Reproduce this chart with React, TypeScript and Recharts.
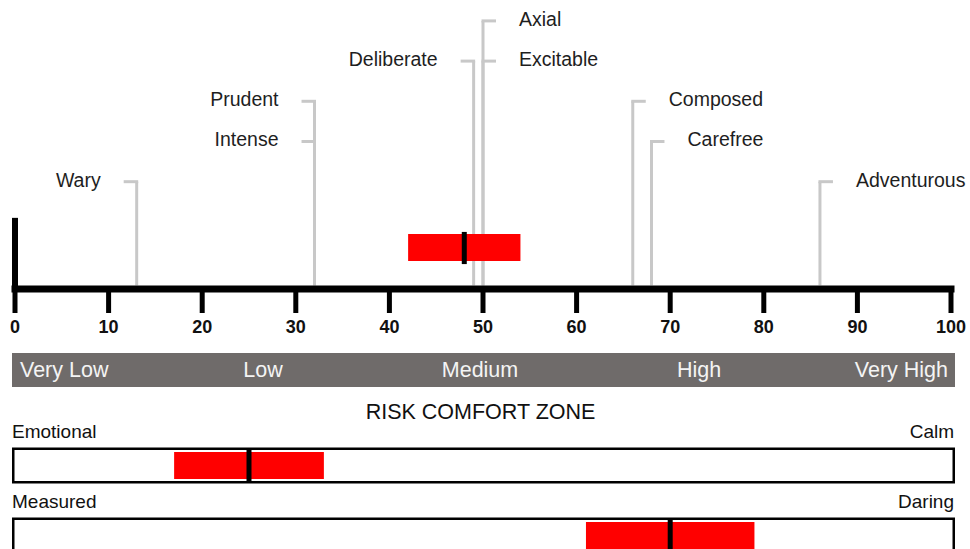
import React from 'react';
import { ComposedChart, XAxis, YAxis, ReferenceLine, Scatter, Bar } from 'recharts';

// ---- data ----
const TRAIT_NAMES = ['Wary', 'Prudent', 'Intense', 'Deliberate', 'Axial', 'Excitable', 'Composed', 'Carefree', 'Adventurous'];
const TRAIT_VALUES = [13, 32, 32, 49, 50, 50, 66, 68, 86];
const TRAIT_TIERS = [1, 3, 2, 4, 5, 4, 3, 2, 1];
const AXIS_TICKS = [0, 10, 20, 30, 40, 50, 60, 70, 80, 90, 100];
const ZONE_LOW = 42;
const ZONE_HIGH = 54;
const ZONE_MARK = 48;
const BAND_LABELS = ['Very Low', 'Low', 'Medium', 'High', 'Very High'];
const TITLE = 'RISK COMFORT ZONE';
const ROW_LEFT = ['Emotional', 'Measured'];
const ROW_RIGHT = ['Calm', 'Daring'];
const ROW_LOW = [17, 61];
const ROW_HIGH = [33, 79];
const ROW_MARK = [25, 70];

// ---- layout / style ----
const FONT = "'Liberation Sans', Arial, Helvetica, sans-serif";
const GRAY = '#c8c8c8';
const RED = '#ff0000';
const Y_MIN = -1.67;
const Y_MAX = 5.52;
const ZONE_Y = -0.64;
const MARK_Y = [-1.05, -0.25];
const LEFT_BAR_TOP = 0.1;
const BAND_POS: Array<{ left?: number; center?: number; right?: number }> = [
  { left: 8 },
  { center: 251 },
  { center: 468 },
  { center: 687 },
  { right: 7 },
];

const traits = TRAIT_NAMES.map((name, i) => ({ name, value: TRAIT_VALUES[i], tier: TRAIT_TIERS[i] }));
const rows = ROW_LEFT.map((left, i) => ({
  left,
  right: ROW_RIGHT[i],
  range: [ROW_LOW[i], ROW_HIGH[i]],
  mark: ROW_MARK[i],
}));

const TraitLabel = (props: any) => {
  const { cx, cy, payload } = props;
  if (cx == null || cy == null) return null;
  const dir = payload.value < 50 ? -1 : 1;
  return (
    <g>
      <line x1={cx - dir * 1.5} y1={cy} x2={cx + dir * 13} y2={cy} stroke={GRAY} strokeWidth={3} />
      <text
        x={cx + dir * 36}
        y={cy - 2}
        textAnchor={dir < 0 ? 'end' : 'start'}
        dominantBaseline="central"
        fontSize={19.5}
        fontFamily={FONT}
        fill="#1e1e1e"
      >
        {payload.name}
      </text>
    </g>
  );
};

const ComfortShape = (props: any) => {
  const { x, y, width, height, payload, background } = props;
  const px = background && background.width ? background.x : 15;
  const pw = background && background.width ? background.width : 936;
  const cy = y + height / 2;
  const lo = payload.range[0];
  const hi = payload.range[1];
  const mx = x + (width * (payload.mark - lo)) / (hi - lo);
  const boxL = px - 1.75;
  const boxR = px + pw + 2.75;
  return (
    <g>
      <rect x={boxL} y={cy - 16.75} width={boxR - boxL} height={33.5} fill="#fff" stroke="#000" strokeWidth={2.5} />
      <rect x={x} y={y} width={width} height={height} fill={RED} />
      <line x1={mx} x2={mx} y1={cy - 16} y2={cy + 16} stroke="#000" strokeWidth={5} />
      <text x={px - 3} y={cy - 28} fontSize={19} fontFamily={FONT} fill="#111">
        {payload.left}
      </text>
      <text x={px + pw + 3} y={cy - 28} textAnchor="end" fontSize={19} fontFamily={FONT} fill="#111">
        {payload.right}
      </text>
    </g>
  );
};

export default function App() {
  return (
    <div
      style={{
        position: 'absolute',
        left: 0,
        top: 0,
        width: 970,
        height: 549,
        overflow: 'hidden',
        background: '#fff',
        fontFamily: FONT,
      }}
    >
      <div style={{ position: 'absolute', left: 0, top: 0 }}>
        <ComposedChart width={970} height={349} margin={{ top: 0, right: 19, left: 15, bottom: 0 }}>
          <XAxis
            type="number"
            dataKey="value"
            domain={[0, 100]}
            ticks={AXIS_TICKS}
            interval={0}
            height={60}
            tickSize={24}
            tickMargin={7}
            axisLine={{ stroke: '#000', strokeWidth: 7, strokeLinecap: 'square' }}
            tickLine={{ stroke: '#000', strokeWidth: 5 }}
            tick={{ fill: '#111', fontSize: 18, fontWeight: 'bold', fontFamily: FONT }}
          />
          <YAxis type="number" dataKey="tier" domain={[Y_MIN, Y_MAX]} hide />
          {traits.map((t) => (
            <ReferenceLine
              key={'v-' + t.name}
              segment={[
                { x: t.value, y: Y_MIN + 0.09 },
                { x: t.value, y: t.tier },
              ]}
              stroke={GRAY}
              strokeWidth={3}
              ifOverflow="visible"
            />
          ))}
          <ReferenceLine
            segment={[
              { x: 0, y: Y_MIN },
              { x: 0, y: LEFT_BAR_TOP },
            ]}
            stroke="#000"
            strokeWidth={6}
            ifOverflow="visible"
          />
          <ReferenceLine
            segment={[
              { x: ZONE_LOW, y: ZONE_Y },
              { x: ZONE_HIGH, y: ZONE_Y },
            ]}
            stroke={RED}
            strokeWidth={27}
            ifOverflow="visible"
          />
          <ReferenceLine
            segment={[
              { x: ZONE_MARK, y: MARK_Y[0] },
              { x: ZONE_MARK, y: MARK_Y[1] },
            ]}
            stroke="#000"
            strokeWidth={5}
            ifOverflow="visible"
          />
          <Scatter data={traits} shape={TraitLabel} isAnimationActive={false} />
        </ComposedChart>
      </div>

      <div
        style={{
          position: 'absolute',
          left: 12,
          top: 353,
          width: 943,
          height: 34,
          background: '#6f6b6a',
          color: '#f4f4f4',
          fontSize: 21.5,
          lineHeight: '34px',
        }}
      >
        {BAND_LABELS.map((lab, i) => {
          const p = BAND_POS[i];
          const style: React.CSSProperties = { position: 'absolute', top: 0, whiteSpace: 'nowrap' };
          if (p.left != null) style.left = p.left;
          if (p.right != null) style.right = p.right;
          if (p.center != null) {
            style.left = p.center;
            style.transform = 'translateX(-50%)';
          }
          return (
            <span key={lab} style={style}>
              {lab}
            </span>
          );
        })}
      </div>

      <div
        style={{
          position: 'absolute',
          left: 0,
          top: 400,
          width: 961,
          textAlign: 'center',
          fontSize: 21.5,
          color: '#111',
        }}
      >
        {TITLE}
      </div>

      <div style={{ position: 'absolute', left: 0, top: 400 }}>
        <ComposedChart
          layout="vertical"
          width={970}
          height={170}
          data={rows}
          margin={{ top: 30, right: 19, left: 15, bottom: 0 }}
        >
          <XAxis type="number" domain={[0, 100]} hide />
          <YAxis type="category" dataKey="left" hide />
          <Bar dataKey="range" barSize={27} shape={ComfortShape} isAnimationActive={false} />
        </ComposedChart>
      </div>
    </div>
  );
}
